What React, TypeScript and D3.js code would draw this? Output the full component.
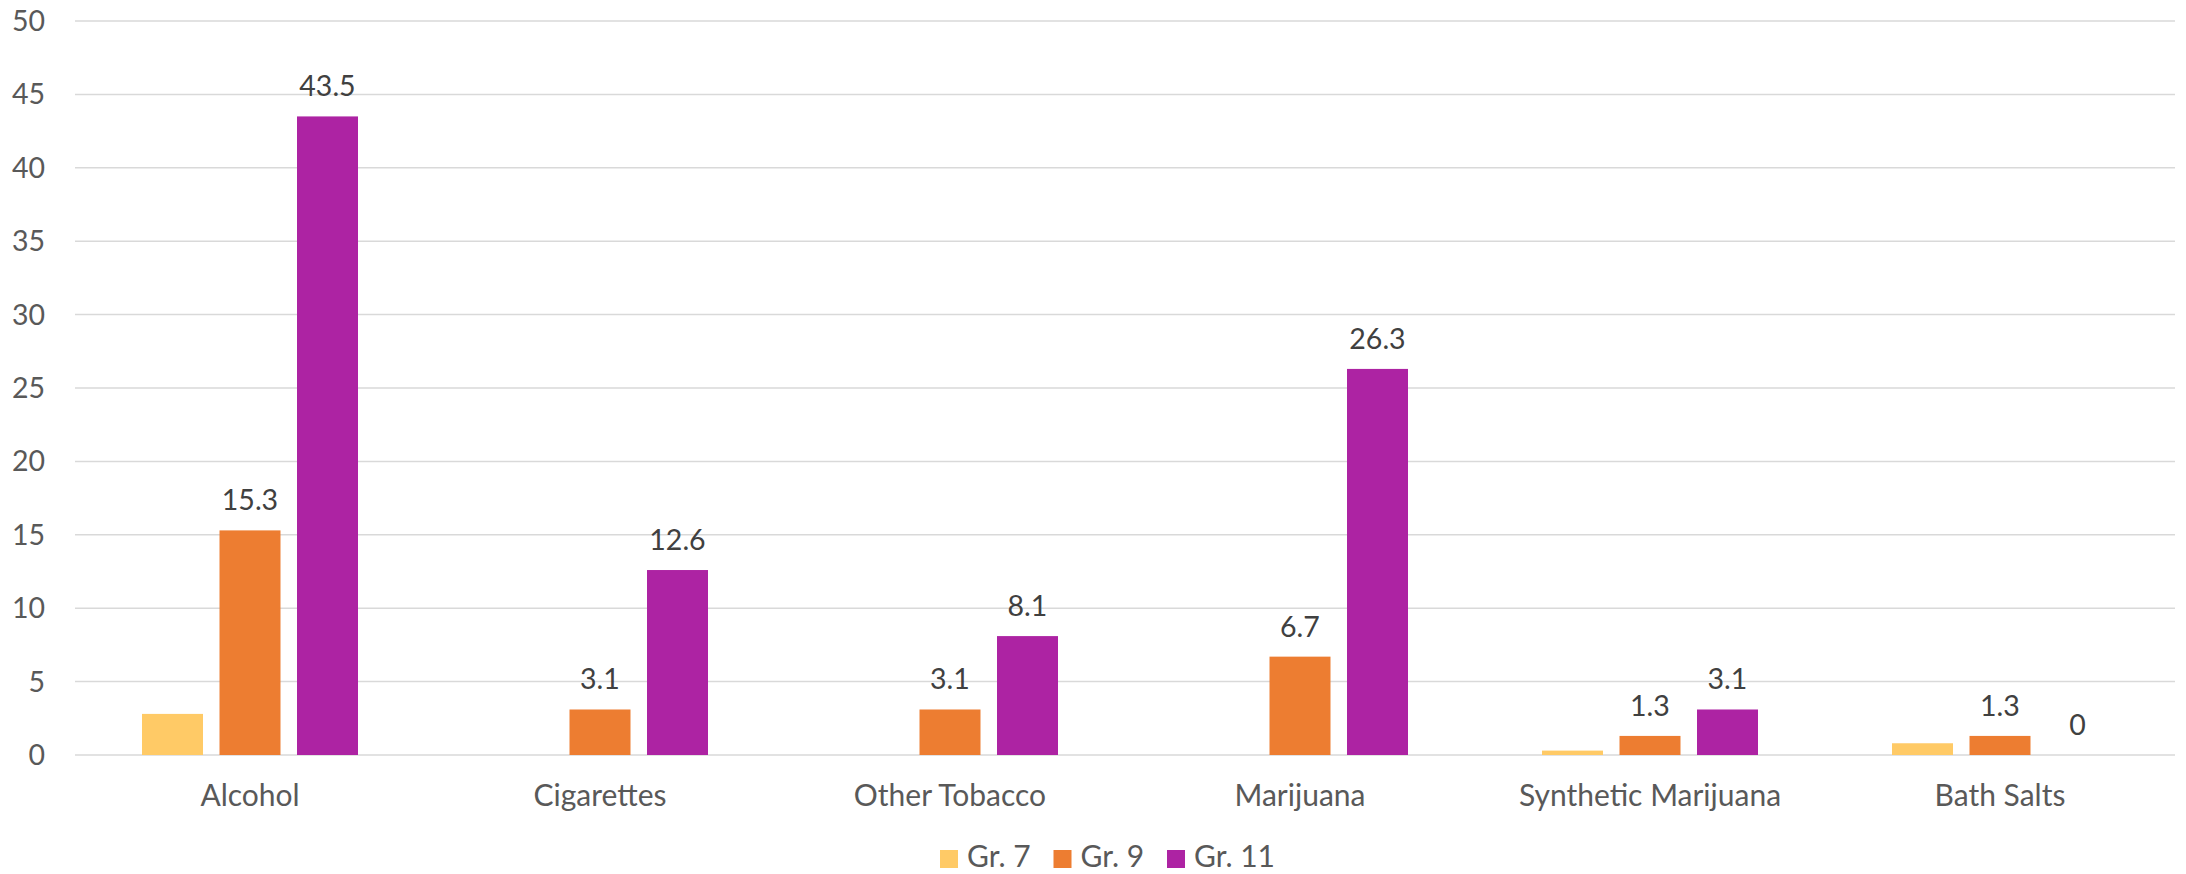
import React from "react";
import * as d3 from "d3";

const categories = ["Alcohol", "Cigarettes", "Other Tobacco", "Marijuana", "Synthetic Marijuana", "Bath Salts"];
const seriesNames = ["Gr. 7", "Gr. 9", "Gr. 11"];
const gr7: (number | null)[] = [2.8, null, null, null, 0.3, 0.8];
const gr9: (number | null)[] = [15.3, 3.1, 3.1, 6.7, 1.3, 1.3];
const gr11: (number | null)[] = [43.5, 12.6, 8.1, 26.3, 3.1, 0];
const showLabels = [false, true, true];
const colors = ["#FFCA66", "#ED7D31", "#AD23A3"];
const yTicks = [0, 5, 10, 15, 20, 25, 30, 35, 40, 45, 50];

const W = 2186;
const H = 874;
const FONT = "Lato, 'Open Sans', sans-serif";
const TEXT = "#595959";

export default function App() {
  const series = [gr7, gr9, gr11];
  const x = d3.scaleBand<string>().domain(categories).range([75, 2175]).paddingInner(0).paddingOuter(0);
  const xs = d3.scaleBand<string>().domain(seriesNames).range([-108, 108]).paddingInner(0.213).paddingOuter(0);
  const y = d3.scaleLinear().domain([0, 50]).range([755, 21]);
  const legendStart = 940;
  const legendStep = 113.5;

  return (
    <svg width={W} height={H} style={{ position: "absolute", left: 0, top: 0, background: "#fff" }} fontFamily={FONT}>
      <rect x={0} y={0} width={W} height={H} fill="#fff" />
      {yTicks.map((t) => (
        <g key={t}>
          <line x1={75} x2={2175} y1={y(t)} y2={y(t)} stroke="#D9D9D9" strokeWidth={1.5} />
          <text x={45} y={y(t)} dy="0.35em" textAnchor="end" fontSize={28.5} fill={TEXT}>
            {t}
          </text>
        </g>
      ))}
      {series.map((vals, si) =>
        vals.map((v, ci) => {
          if (v === null) return null;
          const cx = (x(categories[ci]) as number) + x.bandwidth() / 2;
          const bx = cx + (xs(seriesNames[si]) as number);
          const top = y(v);
          return (
            <g key={`${si}-${ci}`}>
              {v > 0 && <rect x={bx} y={top} width={xs.bandwidth()} height={y(0) - top} fill={colors[si]} />}
              {showLabels[si] && (
                <text x={bx + xs.bandwidth() / 2} y={top - 20} textAnchor="middle" fontSize={28.5} fill="#404040">
                  {v}
                </text>
              )}
            </g>
          );
        })
      )}
      {categories.map((c) => (
        <text key={c} x={(x(c) as number) + x.bandwidth() / 2} y={806} textAnchor="middle" fontSize={30} fill={TEXT}>
          {c}
        </text>
      ))}
      {seriesNames.map((s, i) => (
        <g key={s} transform={`translate(${legendStart + i * legendStep},0)`}>
          <rect x={0} y={850} width={18} height={18} fill={colors[i]} />
          <text x={27} y={867} fontSize={30} fill={TEXT}>
            {s}
          </text>
        </g>
      ))}
    </svg>
  );
}
